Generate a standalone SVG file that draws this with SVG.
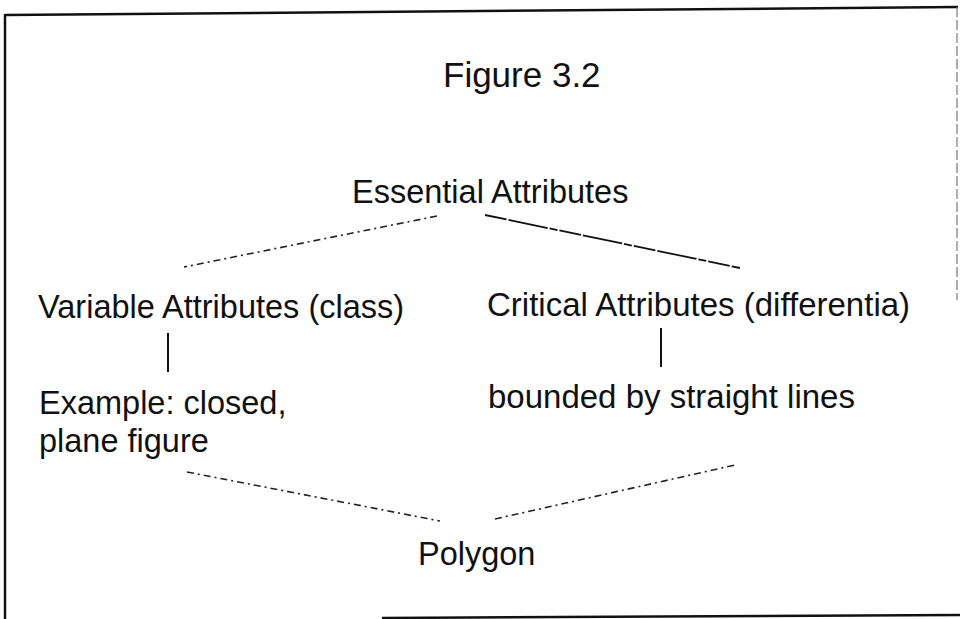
<svg xmlns="http://www.w3.org/2000/svg" width="960" height="619" viewBox="0 0 960 619">
<style>
  .t { font-family: "Liberation Sans", Arial, Helvetica, sans-serif; fill: #111; font-size: 32.5px; }
  .frame { stroke: #111; stroke-width: 2.5; fill: none; }
  .solid { stroke: #111; stroke-width: 2; fill: none; }
  .dot { stroke: #222; stroke-width: 1.6; fill: none; stroke-dasharray: 7 4 2 4; }
  .dash { stroke: #111; stroke-width: 1.8; fill: none; stroke-dasharray: 22 2 40 2 8 2; }
</style>
<rect width="960" height="619" fill="#ffffff"/>
<g id="frame">
  <line class="frame" x1="5" y1="15" x2="958" y2="7"/>
  <line class="frame" x1="5" y1="14" x2="5" y2="619"/>
  <line x1="957" y1="7" x2="957" y2="300" stroke="#777" stroke-width="1.2" stroke-dasharray="10 3"/>
  <line class="frame" x1="382" y1="618" x2="960" y2="615"/>
</g>
<g id="title">
  <text class="t" x="443" y="87" style="font-size:35px">Figure 3.2</text>
</g>
<g id="connectors">
  <line class="dot" x1="437" y1="216" x2="184" y2="267"/>
  <line class="dash" x1="485" y1="215" x2="740" y2="268"/>
  <line class="solid" x1="168" y1="333" x2="168" y2="372"/>
  <line class="solid" x1="661" y1="328" x2="661" y2="367"/>
  <line class="dot" x1="187" y1="472" x2="440" y2="521"/>
  <line class="dot" x1="495" y1="519" x2="735" y2="465"/>
</g>
<g id="essential">
  <text class="t" x="352" y="203">Essential Attributes</text>
</g>
<g id="variable">
  <text class="t" x="38" y="318">Variable Attributes (class)</text>
</g>
<g id="critical">
  <text class="t" x="487" y="316" style="font-size:33px">Critical Attributes (differentia)</text>
</g>
<g id="example">
  <text class="t" x="39" y="414">Example: closed,</text>
  <text class="t" x="39" y="452">plane figure</text>
</g>
<g id="bounded">
  <text class="t" x="488" y="408" style="font-size:33px">bounded by straight lines</text>
</g>
<g id="polygon">
  <text class="t" x="418" y="565">Polygon</text>
</g>
</svg>
